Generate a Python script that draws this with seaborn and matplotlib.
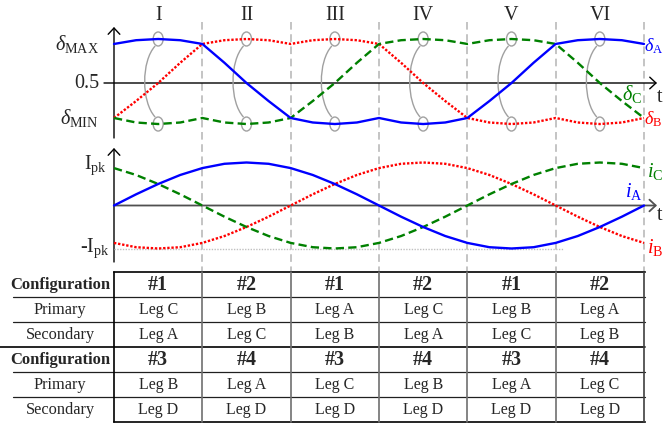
import numpy as np
import pandas as pd
import matplotlib
matplotlib.use("Agg")
import matplotlib.pyplot as plt
from matplotlib.patches import Ellipse, PathPatch
from matplotlib.path import Path
import seaborn as sns

# ---------------------------------------------------------------- data
# electrical angle in degrees, one sample every 15 degrees
theta = list(range(0, 361, 15))

# leg duty cycles
duty_A = [0.855, 0.889, 0.900, 0.889, 0.855, 0.684, 0.500, 0.336, 0.182,
          0.141, 0.127, 0.141, 0.182, 0.141, 0.127, 0.141, 0.182, 0.336,
          0.500, 0.684, 0.855, 0.889, 0.900, 0.889, 0.855]
duty_B = [0.182, 0.336, 0.500, 0.684, 0.855, 0.889, 0.900, 0.889, 0.855,
          0.889, 0.900, 0.889, 0.855, 0.684, 0.500, 0.336, 0.182, 0.141,
          0.127, 0.141, 0.182, 0.141, 0.127, 0.141, 0.182]
duty_C = [0.182, 0.141, 0.127, 0.141, 0.182, 0.141, 0.127, 0.141, 0.182,
          0.336, 0.500, 0.684, 0.855, 0.889, 0.900, 0.889, 0.855, 0.889,
          0.900, 0.889, 0.855, 0.684, 0.500, 0.336, 0.182]

# phase currents in per-unit of I_pk
cur_A = [0.00, 0.26, 0.50, 0.71, 0.87, 0.97, 1.00, 0.97, 0.87, 0.71, 0.50,
         0.26, 0.00, -0.26, -0.50, -0.71, -0.87, -0.97, -1.00, -0.97, -0.87,
         -0.71, -0.50, -0.26, 0.00]
cur_B = [-0.87, -0.97, -1.00, -0.97, -0.87, -0.71, -0.50, -0.26, 0.00, 0.26,
         0.50, 0.71, 0.87, 0.97, 1.00, 0.97, 0.87, 0.71, 0.50, 0.26, 0.00,
         -0.26, -0.50, -0.71, -0.87]
cur_C = [0.87, 0.71, 0.50, 0.26, 0.00, -0.26, -0.50, -0.71, -0.87, -0.97,
         -1.00, -0.97, -0.87, -0.71, -0.50, -0.26, 0.00, 0.26, 0.50, 0.71,
         0.87, 0.97, 1.00, 0.97, 0.87]

sectors = ["I", "II", "III", "IV", "V", "VI"]
sector_width = 60
duty_max_level = 0.855
duty_min_level = 0.182
duty_peak = 0.900
duty_trough = 0.127

config_row_1 = ["#1", "#2", "#1", "#2", "#1", "#2"]
primary_row_1 = ["Leg C", "Leg B", "Leg A", "Leg C", "Leg B", "Leg A"]
secondary_row_1 = ["Leg A", "Leg C", "Leg B", "Leg A", "Leg C", "Leg B"]
config_row_2 = ["#3", "#4", "#3", "#4", "#3", "#4"]
primary_row_2 = ["Leg B", "Leg A", "Leg C", "Leg B", "Leg A", "Leg C"]
secondary_row_2 = ["Leg D", "Leg D", "Leg D", "Leg D", "Leg D", "Leg D"]
row_names = ["Configuration", "Primary", "Secondary"]

# ---------------------------------------------------------------- style
sns.set_style("white")
plt.rcParams["font.family"] = ["Liberation Serif", "DejaVu Serif"]
plt.rcParams["mathtext.fontset"] = "custom"
plt.rcParams["mathtext.rm"] = "Liberation Serif"
plt.rcParams["mathtext.it"] = "Liberation Serif:italic"
plt.rcParams["mathtext.bf"] = "Liberation Serif:bold"

BLUE, RED, GREEN = "#0000ff", "#ff0000", "#008000"
W, H, DPI = 663, 426, 100
X0, X1 = 114.0, 644.0           # pixel columns of 0 and 360 degrees
SX = (X1 - X0) / 360.0


def duty_of_px(py):
    return 0.5 + (83.0 - py) * 0.4 / 44.0


def px_of_duty(d):
    return 83.0 - (d - 0.5) * 44.0 / 0.4


def cur_of_px(py):
    return (205.5 - py) / 43.0


def px_of_cur(c):
    return 205.5 - c * 43.0


def px_of_deg(t):
    return X0 + t * SX


fig = plt.figure(figsize=(W / DPI, H / DPI), dpi=DPI)

# pixel-space layer for axes arrows, sector markers and the table
ov = fig.add_axes([0, 0, 1, 1])
ov.set_xlim(0, W)
ov.set_ylim(H, 0)
ov.set_axis_off()
ov.patch.set_alpha(0)

ax_top = fig.add_axes([X0 / W, 1 - 140 / H, (X1 - X0) / W, 115 / H])
ax_top.set_xlim(0, 360)
ax_top.set_ylim(duty_of_px(140), duty_of_px(25))
ax_bot = fig.add_axes([X0 / W, 1 - 264 / H, (X1 - X0) / W, 118 / H])
ax_bot.set_xlim(0, 360)
ax_bot.set_ylim(cur_of_px(264), cur_of_px(146))
for a in (ax_top, ax_bot):
    a.set_axis_off()
    a.patch.set_alpha(0)

# sector boundaries
for k in range(1, len(sectors) + 1):
    x = px_of_deg(k * sector_width)
    ov.plot([x, x], [22, 272], color="#b4b4b4", lw=1.1, ls=(0, (5, 3)))

# axes with open arrow heads
arrow = dict(arrowstyle="->,head_length=0.45,head_width=0.42", color="black",
             lw=1.0, shrinkA=0, shrinkB=0)
arrow_g = dict(arrow, color="#505050", lw=1.3)
ov.annotate("", xy=(X0, 27), xytext=(X0, 138), arrowprops=arrow)
ov.annotate("", xy=(657, px_of_duty(0.5)), xytext=(104, px_of_duty(0.5)), arrowprops=arrow)
ov.annotate("", xy=(X0, 148), xytext=(X0, 262), arrowprops=arrow)
ov.annotate("", xy=(657, px_of_cur(0)), xytext=(X0, px_of_cur(0)), arrowprops=arrow_g)

# ------------------------------------------------------- duty cycle panel
df_duty = pd.DataFrame({"theta": theta, "A": duty_A, "B": duty_B, "C": duty_C})
sns.lineplot(data=df_duty, x="theta", y="B", ax=ax_top, color=RED, lw=1.7,
             linestyle=(0, (1, 0.75)), clip_on=False)
sns.lineplot(data=df_duty, x="theta", y="C", ax=ax_top, color=GREEN, lw=1.7,
             linestyle=(0, (3.5, 1.8)), clip_on=False)
sns.lineplot(data=df_duty, x="theta", y="A", ax=ax_top, color=BLUE, lw=1.7,
             linestyle="-", clip_on=False)

# peak/trough markers joined by a curved bracket in every sector
for k in range(len(sectors)):
    xc = px_of_deg(k * sector_width + sector_width / 2)
    yt, yb = px_of_duty(duty_peak), px_of_duty(duty_trough)
    for yy in (yt, yb):
        ov.add_patch(Ellipse((xc, yy), 10, 14, fill=False, ec="#a0a0a0", lw=1.0,
                             zorder=5))
    verts = [(xc - 3, yt + 7), (xc - 17, yt + 22), (xc - 17, yb - 22), (xc - 3, yb - 7)]
    codes = [Path.MOVETO, Path.CURVE4, Path.CURVE4, Path.CURVE4]
    ov.add_patch(PathPatch(Path(verts, codes), fill=False, ec="#a0a0a0", lw=1.0,
                           zorder=5))
    ov.text(xc, 15, sectors[k], ha="center", va="center", fontsize=14.5)

ov.text(99, px_of_duty(duty_max_level), r"$\delta_{\mathrm{MAX}}$", ha="right",
        va="center", fontsize=14.5)
ov.text(99, px_of_duty(0.5), "0.5", ha="right", va="center", fontsize=14.5)
ov.text(99, px_of_duty(duty_min_level), r"$\delta_{\mathrm{MIN}}$", ha="right",
        va="center", fontsize=14.5)
ov.text(657, 97, "t", ha="left", va="center", fontsize=14.5)
ov.text(644, 46, r"$\delta_{\mathrm{A}}$", color=BLUE, ha="left", va="center", fontsize=13)
ov.text(622, 94, r"$\delta_{\mathrm{C}}$", color=GREEN, ha="left", va="center", fontsize=14.5)
ov.text(644, 119, r"$\delta_{\mathrm{B}}$", color=RED, ha="left", va="center", fontsize=13)

# --------------------------------------------------------- current panel
df_cur = pd.DataFrame({"theta": theta, "A": cur_A, "B": cur_B, "C": cur_C})
ax_bot.hlines(-1, 0, 305, color="#c0c0c0", lw=1.0, ls=(0, (1, 1)))
sns.lineplot(data=df_cur, x="theta", y="B", ax=ax_bot, color=RED, lw=1.7,
             linestyle=(0, (1, 0.75)), clip_on=False)
sns.lineplot(data=df_cur, x="theta", y="C", ax=ax_bot, color=GREEN, lw=1.7,
             linestyle=(0, (3.5, 1.8)), clip_on=False)
sns.lineplot(data=df_cur, x="theta", y="A", ax=ax_bot, color=BLUE, lw=1.7,
             linestyle="-", clip_on=False)

ov.text(107, px_of_cur(1) + 3, r"$\mathrm{I}_{\mathrm{pk}}$", ha="right", va="center",
        fontsize=14.5)
ov.text(110, px_of_cur(-1), r"-$\mathrm{I}_{\mathrm{pk}}$", ha="right", va="center",
        fontsize=14.5)
ov.text(657, 216, "t", ha="left", va="center", fontsize=14.5)
ov.text(647, 172, r"$i_{\mathrm{C}}$", color=GREEN, ha="left", va="center", fontsize=14.5)
ov.text(625, 192, r"$i_{\mathrm{A}}$", color=BLUE, ha="left", va="center", fontsize=14.5)
ov.text(647, 248, r"$i_{\mathrm{B}}$", color=RED, ha="left", va="center", fontsize=14.5)

# ------------------------------------------------------------------ table
row_top = 272.0
row_h = 25.0
rows = [config_row_1, primary_row_1, secondary_row_1,
        config_row_2, primary_row_2, secondary_row_2]
col_edges = [px_of_deg(k * sector_width) for k in range(len(sectors) + 1)]

for r, cells in enumerate(rows):
    yc = row_top + row_h * (r + 0.5) + 0.5
    is_cfg = r % 3 == 0
    ov.text(60, yc, row_names[r % 3], ha="center", va="center",
            fontsize=12 if is_cfg else 11.8,
            fontweight="bold" if is_cfg else "normal")
    for c, txt in enumerate(cells):
        xc = (col_edges[c] + col_edges[c + 1]) / 2
        ov.text(xc, yc, txt, ha="center", va="center",
                fontsize=14.5 if is_cfg else 11.5,
                fontweight="bold" if is_cfg else "normal")

for r in range(len(rows) + 1):
    y = row_top + row_h * r
    if r in (0, len(rows)):
        ov.plot([X0, X1 + 1], [y, y], color="black", lw=1.2, solid_capstyle="projecting")
    elif r == 3:
        ov.plot([0, X1 + 1], [y, y], color="black", lw=1.2)
    else:
        ov.plot([13, X1 + 1], [y, y], color="#202020", lw=0.9)

y_end = row_top + row_h * len(rows)
for k, x in enumerate(col_edges):
    if k == 0:
        ov.plot([x, x], [row_top, y_end], color="black", lw=1.2)
    elif k == len(col_edges) - 1:
        ov.plot([x, x], [row_top, y_end], color="#404040", lw=1.2)
    else:
        ov.plot([x, x], [row_top, y_end], color="#707070", lw=1.2)

fig.savefig("out.png", dpi=DPI)
